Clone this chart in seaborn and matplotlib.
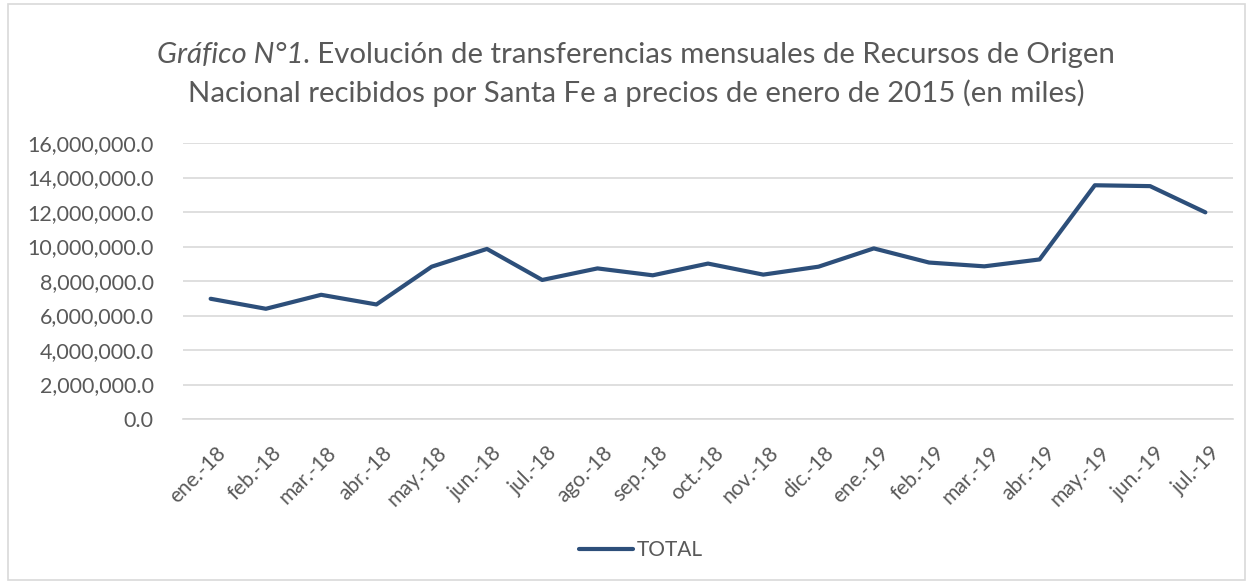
import matplotlib
matplotlib.use('Agg')
import matplotlib.pyplot as plt
import matplotlib.transforms as mtransforms
from matplotlib.patches import Rectangle
import seaborn as sns
import pandas as pd

# mensual, miles de pesos a precios de enero 2015
meses = ['ene.-18', 'feb.-18', 'mar.-18', 'abr.-18', 'may.-18', 'jun.-18',
         'jul.-18', 'ago.-18', 'sep.-18', 'oct.-18', 'nov.-18', 'dic.-18',
         'ene.-19', 'feb.-19', 'mar.-19', 'abr.-19', 'may.-19', 'jun.-19',
         'jul.-19']
total = [6970000, 6390000, 7200000, 6640000, 8830000, 9860000,
         8060000, 8730000, 8330000, 9010000, 8370000, 8830000,
         9890000, 9070000, 8850000, 9250000, 13550000, 13500000,
         11980000]
y_ticks = [0, 2e6, 4e6, 6e6, 8e6, 10e6, 12e6, 14e6, 16e6]

sns.set_style('white')
plt.rcParams['font.family'] = ['Lato', 'DejaVu Sans']

gris = '#595959'
grid_c = '#d9d9d9'
azul = '#2d4f7a'

W, H = 1253, 582
fig = plt.figure(figsize=(W / 100, H / 100), dpi=100)
ax = fig.add_axes([183 / W, 1 - 419 / H, (1233 - 183) / W, (419 - 143) / H])

df = pd.DataFrame({'pos': range(len(meses)), 'valor': total})
sns.lineplot(data=df, x='pos', y='valor', ax=ax, color=azul, linewidth=3,
             label='TOTAL', solid_capstyle='round', solid_joinstyle='round')

ax.set_xlim(-0.5, len(meses) - 0.5)
ax.set_ylim(0, 16e6)
ax.set_yticks(y_ticks)
ax.set_yticklabels([f'{v:,.1f}' for v in y_ticks])
ax.set_xticks(range(len(meses)))
ax.set_xticklabels(meses, rotation=45, ha='right', rotation_mode='anchor')
ax.set_xticks([i - 0.5 for i in range(len(meses) + 1)], minor=True)
ax.tick_params(axis='x', which='major', length=0, pad=17, labelsize=15, labelcolor=gris)
ax.tick_params(axis='x', which='minor', length=7, color=grid_c, width=1.2, direction='out')
ax.tick_params(axis='y', length=0, pad=21, labelsize=15.5, labelcolor=gris)
shift = mtransforms.ScaledTranslation(5 / 100, 0, fig.dpi_scale_trans)
for lab in ax.get_xticklabels():
    lab.set_transform(lab.get_transform() + shift)
ax.set_xlabel('')
ax.set_ylabel('')
ax.grid(axis='y', color=grid_c, linewidth=1.2)
ax.set_axisbelow(True)
for s in ['left', 'right', 'top']:
    ax.spines[s].set_visible(False)
ax.spines['bottom'].set_color(grid_c)
ax.spines['bottom'].set_linewidth(1.2)
ax.get_legend().remove()

# titulo con parte en cursiva
tsize = 21.2
fig.canvas.draw()
r = fig.canvas.get_renderer()
t1 = fig.text(0, 1 - 55 / H, 'Gráfico N°1', fontsize=tsize, style='italic', color=gris, va='center')
t2 = fig.text(0, 1 - 55 / H, '. Evolución de transferencias mensuales de Recursos de Origen',
              fontsize=tsize, color=gris, va='center')
w1 = t1.get_window_extent(r).width
w2 = t2.get_window_extent(r).width
x0 = (636 - (w1 + w2) / 2) / W
t1.set_x(x0)
t2.set_x(x0 + w1 / W)
fig.text(636 / W, 1 - 93 / H, 'Nacional recibidos por Santa Fe a precios de enero de 2015 (en miles)',
         fontsize=tsize, color=gris, ha='center', va='center')

fig.legend(ax.get_lines()[:1], ['TOTAL'], loc='center', bbox_to_anchor=(641 / W, 1 - 550 / H),
           frameon=False, fontsize=15, handlelength=2.6, handletextpad=0.2,
           labelcolor=gris)

fig.patches.append(Rectangle((8 / W, 2 / H), (1245 - 8) / W, (578 - 2) / H,
                             transform=fig.transFigure, fill=False,
                             edgecolor=grid_c, linewidth=1.2))

fig.savefig('out.png', dpi=100)
